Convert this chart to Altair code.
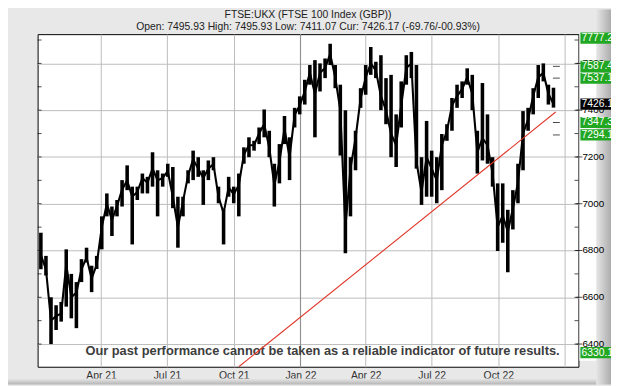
import altair as alt
import pandas as pd

# ---------------- data (weekly) ----------------
week_start = "2021-01-08"
highs = [6876, 6777, 6600, 6566, 6580, 6805, 6700, 6665, 6763, 6812,
         6735, 6777, 6946, 7044, 6988, 7016, 7101, 7164, 7073, 7073,
         7129, 7115, 7220, 7143, 7129, 7171, 7157, 7030, 7030, 7143,
         7227, 7199, 7143, 7185, 7199, 7073, 6974, 7115, 7073, 7129,
         7241, 7284, 7269, 7326, 7403, 7312, 7171, 7255, 7375, 7284,
         7410, 7459, 7530, 7593, 7614, 7600, 7621, 7684, 7593, 7509,
         7400, 7199, 7312, 7494, 7593, 7670, 7607, 7635, 7537, 7551,
         7382, 7523, 7635, 7649, 7593, 7199, 7354, 7227, 7199, 7298,
         7340, 7452, 7509, 7523, 7579, 7551, 7312, 7516, 7382, 7199,
         7087, 7087, 6974, 7058, 7171, 7396, 7410, 7494, 7593, 7600,
         7509, 7496]
lows = [6720, 6693, 6400, 6460, 6496, 6560, 6510, 6468, 6665, 6749,
        6622, 6721, 6805, 6946, 6862, 6946, 6988, 7058, 6826, 7016,
        7044, 7044, 7073, 6946, 7073, 7115, 6981, 6812, 6946, 7087,
        7101, 7115, 6995, 7101, 7143, 7002, 6826, 7030, 7002, 6946,
        7171, 7199, 7227, 7255, 7284, 7199, 6988, 7087, 7255, 7101,
        7326, 7382, 7424, 7509, 7284, 7480, 7537, 7593, 7494, 7206,
        6788, 6946, 7143, 7410, 7466, 7551, 7537, 7400, 7340, 7199,
        7157, 7326, 7509, 7537, 7150, 6995, 7030, 7030, 7002, 7058,
        7269, 7312, 7410, 7452, 7509, 7400, 7129, 7185, 7171, 7073,
        6798, 6833, 6707, 6890, 7002, 7143, 7312, 7382, 7452, 7523,
        7424, 7411]
closes = [6780, 6720, 6500, 6520, 6530, 6740, 6600, 6620, 6720, 6770,
          6680, 6740, 6900, 7000, 6930, 6990, 7060, 7100, 7030, 7050,
          7110, 7090, 7150, 7100, 7110, 7140, 7030, 6900, 7010, 7120,
          7190, 7150, 7110, 7150, 7170, 7030, 6960, 7070, 7040, 7080,
          7210, 7250, 7250, 7300, 7340, 7240, 7080, 7180, 7320, 7200,
          7380, 7420, 7480, 7560, 7470, 7560, 7580, 7640, 7540, 7400,
          6900, 7150, 7280, 7450, 7540, 7600, 7570, 7460, 7400, 7300,
          7250, 7420, 7580, 7600, 7180, 7050, 7200, 7150, 7100, 7250,
          7310, 7420, 7460, 7490, 7540, 7470, 7220, 7280, 7250, 7130,
          6900, 6950, 6880, 6980, 7090, 7300, 7360, 7460, 7540, 7560,
          7470, 7426.17]

trend_dates = ["2021-10-08", "2022-12-19"]
trend_values = [6303, 7392]

level_values = [7777.2, 7587.4, 7537.1, 7426.17, 7347.3, 7294.1, 6330.1]
level_kind = ["target", "target", "target", "current", "target", "target", "target"]
dash_values = [7587.4, 7537.1, 7347.3, 7294.1]
dash_date = "2022-12-20"

x_ticks = ["2021-04-01", "2021-07-01", "2021-10-01", "2022-01-01",
           "2022-04-01", "2022-07-01", "2022-10-01", "2023-01-01"]
year_break = ["2022-01-01"]
y_ticks = [6400, 6600, 6800, 7000, 7200, 7400, 7600]
y_minor = [6400, 6500, 6600, 6700, 6800, 6900, 7000, 7100, 7200, 7300,
           7400, 7500, 7600, 7700]

title_1 = "FTSE:UKX (FTSE 100 Index (GBP))"
title_2 = "Open: 7495.93 High: 7495.93 Low: 7411.07 Cur: 7426.17 (-69.76/-00.93%)"
disclaimer = "Our past performance cannot be taken as a reliable indicator of future results."

# ---------------- frame ----------------
W, H = 548, 337
Y_MIN, Y_MAX = 6303, 7725
FONT = "Liberation Sans, Arial, sans-serif"

dates = pd.date_range(week_start, periods=len(highs), freq="7D")
df = pd.DataFrame({"date": dates, "hi": highs, "lo": lows, "close": closes})

yscale = alt.Scale(domain=[Y_MIN, Y_MAX], nice=False, zero=False)
xscale = alt.Scale(domain=[alt.DateTime(year=2021, month=1, date=3, hours=12),
                           alt.DateTime(year=2023, month=1, date=19, hours=10)])

def dt(s):
    y, m, d = (int(p) for p in s.split("-"))
    return alt.DateTime(year=y, month=m, date=d)

x_axis = alt.Axis(values=[dt(s) for s in x_ticks], grid=True, gridColor="#bcbcbc",
                  ticks=False, tickSize=0, domain=False, labelPadding=4,
                  labelFont=FONT, labelFontSize=10.5, labelColor="#333333",
                  labelExpr="year(datum.value) >= 2023 ? '' : timeFormat(datum.value, '%b %y')",
                  title=None)
y_axis = alt.Axis(orient="right", values=y_ticks, grid=True, gridColor="#bcbcbc",
                  ticks=False, labels=False, domain=False, title=None)

# decorative frame pieces (pixel placed, no data)
right_shade = alt.Chart(pd.DataFrame({"k": [0]})).mark_rect(
    fill={"gradient": "linear", "x1": 0, "x2": 1, "y1": 0, "y2": 0,
          "stops": [{"offset": 0, "color": "#e6e6e6"}, {"offset": 1, "color": "#a9a9a9"}]}
).encode(x=alt.value(566), x2=alt.value(582), y=alt.value(-25), y2=alt.value(355))
bottom_shade = alt.Chart(pd.DataFrame({"k": [0]})).mark_rect(
    fill={"gradient": "linear", "x1": 0, "x2": 0, "y1": 0, "y2": 1,
          "stops": [{"offset": 0, "color": "#e8e8e8"}, {"offset": 1, "color": "#b4b4b4"}]}
).encode(x=alt.value(-31), x2=alt.value(566), y=alt.value(349), y2=alt.value(355))
label_col = alt.Chart(pd.DataFrame({"k": [0]})).mark_rect(fill="white").encode(
    x=alt.value(549), x2=alt.value(566), y=alt.value(0), y2=alt.value(331))

year_rule = alt.Chart(pd.DataFrame({"date": pd.to_datetime(year_break)})).mark_rule(
    color="#8c8c8c", strokeWidth=1).encode(x=alt.X("date:T", scale=xscale))

bars = alt.Chart(df).mark_rule(color="black", strokeWidth=3.6).encode(
    x=alt.X("date:T", scale=xscale, axis=x_axis),
    y=alt.Y("lo:Q", scale=yscale, axis=y_axis),
    y2="hi:Q",
)
line = alt.Chart(df).mark_line(color="black", strokeWidth=2.1).encode(
    x=alt.X("date:T", scale=xscale),
    y=alt.Y("close:Q", scale=yscale),
)

trend = alt.Chart(pd.DataFrame({"date": pd.to_datetime(trend_dates), "v": trend_values})).mark_line(
    color="#e03528", strokeWidth=1.1, clip=True).encode(
    x=alt.X("date:T", scale=xscale), y=alt.Y("v:Q", scale=yscale))

dashes = alt.Chart(pd.DataFrame({"v": dash_values, "date": pd.to_datetime([dash_date] * len(dash_values))})).mark_tick(
    color="black", orient="horizontal", size=7, thickness=1).encode(
    x=alt.X("date:T", scale=xscale), y=alt.Y("v:Q", scale=yscale))

# y ticks and labels on the right, minor ticks inside both edges
ydf = pd.DataFrame({"v": y_ticks, "t": [str(v) for v in y_ticks]})
mdf = pd.DataFrame({"v": y_minor})
major_ticks = alt.Chart(ydf).mark_tick(color="black", orient="horizontal", size=6, thickness=1).encode(
    x=alt.value(549), y=alt.Y("v:Q", scale=yscale))
minor_r = alt.Chart(mdf).mark_tick(color="black", orient="horizontal", size=4, thickness=1).encode(
    x=alt.value(546), y=alt.Y("v:Q", scale=yscale))
minor_l = alt.Chart(mdf).mark_tick(color="black", orient="horizontal", size=4, thickness=1).encode(
    x=alt.value(2), y=alt.Y("v:Q", scale=yscale))
ylabels = alt.Chart(ydf).mark_text(align="left", baseline="middle", color="black",
                                   font=FONT, fontSize=10).encode(
    x=alt.value(552), y=alt.Y("v:Q", scale=yscale), text="t:N")

levels = pd.DataFrame({"v": level_values, "kind": level_kind})
levels["pos"] = levels["v"].clip(lower=Y_MIN + 60, upper=Y_MAX - 17)
levels["label"] = levels["v"].map(lambda v: f"{v:.2f}")
levels["b0"] = levels["pos"] - 24
levels["b1"] = levels["pos"] + 24

boxes = alt.Chart(levels).mark_rect().encode(
    x=alt.value(550), x2=alt.value(640),
    y=alt.Y("b0:Q", scale=yscale), y2="b1:Q",
    color=alt.Color("kind:N", scale=alt.Scale(domain=["target", "current"],
                                              range=["#22a722", "#000000"]), legend=None),
)
box_text = alt.Chart(levels).mark_text(align="left", baseline="middle", color="white",
                                       font=FONT, fontSize=10.5).encode(
    x=alt.value(551), y=alt.Y("pos:Q", scale=yscale), text="label:N")

t1 = alt.Chart(pd.DataFrame({"t": [title_1]})).mark_text(
    font=FONT, fontSize=10.5, color="#222222", baseline="middle").encode(
    x=alt.value(W / 2), y=alt.value(-19), text="t:N")
t2 = alt.Chart(pd.DataFrame({"t": [title_2]})).mark_text(
    font=FONT, fontSize=10.5, color="#222222", baseline="middle").encode(
    x=alt.value(W / 2), y=alt.value(-7.5), text="t:N")
disc = alt.Chart(pd.DataFrame({"t": [disclaimer]})).mark_text(
    font=FONT, fontSize=13, fontWeight="bold", color="#3d3d3d", baseline="middle").encode(
    x=alt.value(288.7), y=alt.value(320.9), text="t:N")

chart = alt.layer(year_rule, bars, right_shade, bottom_shade, label_col, line, disc, trend, dashes,
                  minor_l, minor_r, major_ticks, ylabels, boxes, box_text, t1, t2).properties(
    width=W, height=H,
    autosize=alt.AutoSizeParams(type="none"),
    padding={"left": 30, "top": 24, "right": 33, "bottom": 17},
    background="#e8e8e8",
).configure_view(fill="white", stroke="black", strokeWidth=1)

chart.save("out.html", embed_options={"renderer": "svg", "actions": False})
